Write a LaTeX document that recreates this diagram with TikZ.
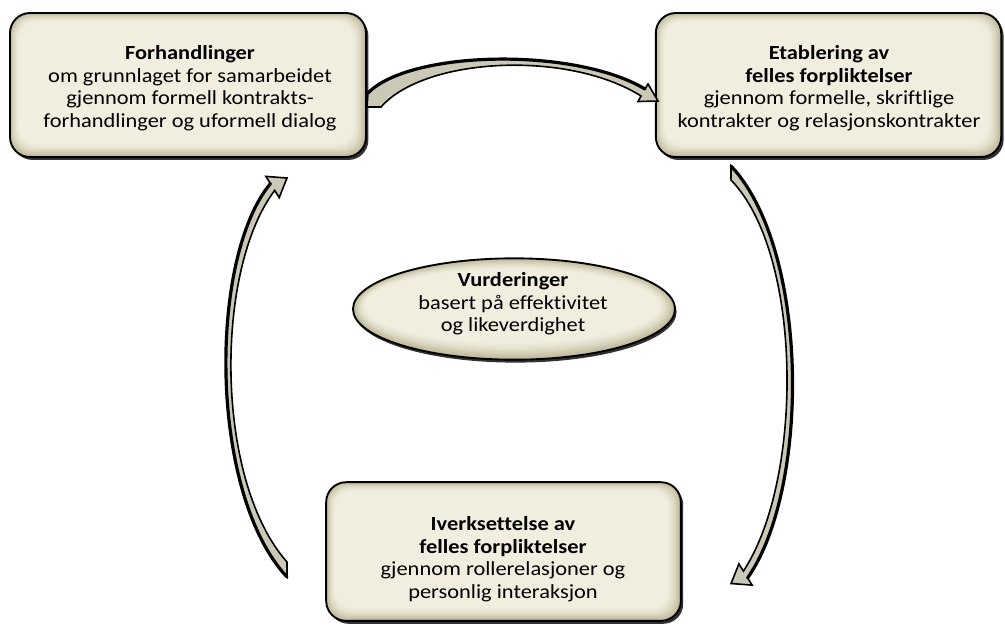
\documentclass[tikz,border=0pt]{standalone}
\usepackage{fontspec}
\setmainfont[FakeStretch=1.12,Ligatures=NoCommon]{Carlito}
\usetikzlibrary{shadows,calc,shapes.geometric}
\definecolor{boxlight}{RGB}{241,238,224}
\definecolor{boxdark}{RGB}{190,184,152}
\definecolor{arrfill}{RGB}{203,200,181}
\begin{document}
\begin{tikzpicture}[x=0.75pt,y=-0.75pt,
  txt/.style={font=\fontsize{15pt}{16.9pt}\selectfont, align=center, text=black, inner sep=0pt},
  boxnode/.style={draw=black, line width=1.4pt, rounded corners=15pt, fill=boxdark, inner sep=0pt,
     drop shadow={shadow xshift=1.8pt, shadow yshift=-2.2pt, fill=black, opacity=0.8},
     path picture={
       \foreach \i/\c in {1/18,2/34,3/50,4/64,5/76,6/86,7/94,8/100}{
         \fill[boxlight!\c!boxdark, rounded corners=14pt]
           ($(path picture bounding box.south west)+(\i*0.8pt,\i*1.2pt)$) rectangle
           ($(path picture bounding box.north east)-(\i*1.2pt,\i*0.8pt)$);
       }}},
  ellnode/.style={ellipse, draw=black, line width=1.4pt, fill=boxdark, inner sep=0pt,
     minimum width=241.5pt, minimum height=76pt,
     drop shadow={shadow xshift=1.2pt, shadow yshift=-2.2pt, fill=black, opacity=0.8},
     path picture={
       \foreach \i/\c in {1/18,2/34,3/50,4/64,5/76,6/86,7/94,8/100}{
         \fill[boxlight!\c!boxdark]
           ($(path picture bounding box.center)+(-\i*0.2pt,\i*0.3pt)$) ellipse [x radius={120.75pt-\i*1.3pt}, y radius={38pt-\i*1.3pt}];
       }}},
  arr/.style={fill=arrfill, draw=black, line width=1.2pt, line join=miter},
  arrout/.style={draw=black, line width=2.4pt, line cap=round},
]
\useasboundingbox (0,0) rectangle (1005,626);

% boxes
\node[boxnode, minimum width=267pt, minimum height=108pt] (b1) at (188,85) {};
\node[boxnode, minimum width=259pt, minimum height=108pt] (b2) at (828.5,85) {};
\node[boxnode, minimum width=266pt, minimum height=104pt] (b3) at (503.5,551.5) {};
\node[ellnode] (e) at (514,309) {};

% texts
\node[txt] (t1) at (190,88) {\textbf{Forhandlinger}\\om grunnlaget for samarbeidet\\gjennom formell kontrakts-\\forhandlinger og uformell dialog};
\node[txt] (t2) at (829,88) {\textbf{Etablering av}\\\textbf{felles forpliktelser}\\gjennom formelle, skriftlige\\kontrakter og relasjonskontrakter};
\node[txt] (t3) at (503,559) {\textbf{Iverksettelse av}\\\textbf{felles forpliktelser}\\gjennom rollerelasjoner og\\personlig interaksjon};
\node[txt] (te) at (513,304) {\textbf{Vurderinger}\\basert på effektivitet\\og likeverdighet};

% top arrow (b1 -> b2)
\coordinate (a1s) at (368,93);
\coordinate (a1n) at (645,89);
\path[arr] (a1s) .. controls (410,50) and (575,47) .. (a1n) -- (648,84) -- (658,101) -- (638,101.5) -- (641,96)
  .. controls (568,50) and (425,57) .. (381,107) -- (367,107) -- cycle;
\draw[arrout] (a1s) .. controls (410,50) and (575,47) .. (a1n);

% right arrow (b2 -> b3)
\coordinate (a2s) at (731,166);
\coordinate (a2n) at (747.6,577.9);
\path[arr] (a2s) .. controls (810,250) and (810,489) .. (a2n) -- (752.1,585.1) -- (731.05,583.5) -- (738.9,563.9) -- (743.4,571.1)
  .. controls (803.5,480) and (803.5,255) .. (731,180) -- cycle;
\draw[arrout] (a2s) .. controls (810,250) and (810,489) .. (a2n);

% left arrow (b3 -> b1)
\coordinate (a3s) at (287,577);
\coordinate (a3n) at (270.4,183.6);
\path[arr] (a3s) .. controls (208.5,493) and (208.5,258) .. (a3n) -- (265.9,176.4) -- (287,178) -- (279.2,197.6) -- (274.7,190.4)
  .. controls (214.4,270) and (214.4,480) .. (287,562) -- cycle;
\draw[arrout] (a3s) .. controls (208.5,493) and (208.5,258) .. (a3n);
\end{tikzpicture}
\end{document}
